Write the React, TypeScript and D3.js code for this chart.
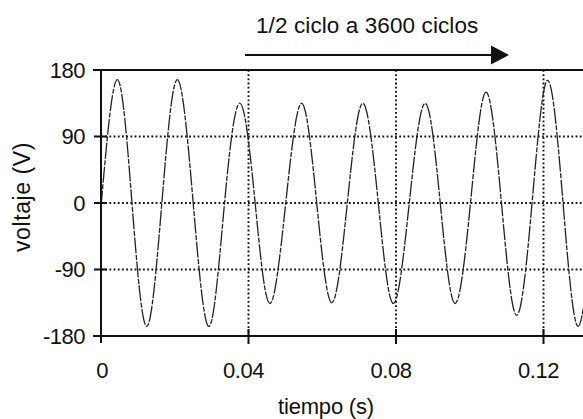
import React from "react";
import * as d3 from "d3";

// Sampled waveform: peaks, troughs and zero crossings (seconds, volts)
const timeS = [
  0, 0.0044, 0.0084, 0.0124, 0.0165, 0.0207, 0.025, 0.0293, 0.0335, 0.0377,
  0.0418, 0.0458, 0.0501, 0.0544, 0.0585, 0.0626, 0.0668, 0.071, 0.0752,
  0.0793, 0.0836, 0.0879, 0.092, 0.096, 0.1002, 0.1044, 0.1086, 0.1127,
  0.1169, 0.1211, 0.1253, 0.1294, 0.1336,
];
const voltageV = [
  -5, 167, 0, -167, 0, 167, 0, -167, 0, 135, 0, -136, 0, 135, 0, -135, 0, 135,
  0, -136, 0, 135, 0, -136, 0, 150, 0, -152, 0, 166, 0, -167, 0,
];

const yTicks = [180, 90, 0, -90, -180];
const yGrid = [90, 0, -90];
const xTicks = [0, 0.04, 0.08, 0.12];
const xTickLabels = ["0", "0.04", "0.08", "0.12"];
const xGrid = [0.04, 0.08, 0.12];

const title = "1/2 ciclo a 3600 ciclos";
const xTitle = "tiempo (s)";
const yTitle = "voltaje (V)";

const W = 583;
const H = 419;
const left = 101;
const top = 70;
const bottom = 336;
const right = W;

export default function App() {
  const x = d3.scaleLinear().domain([0, 0.12]).range([left, 543.5]);
  const y = d3.scaleLinear().domain([-180, 180]).range([bottom, top]);

  const pts = timeS.map((t, i) => [t, voltageV[i]] as [number, number]);
  const line = d3
    .line<[number, number]>()
    .x((d) => x(d[0]))
    .y((d) => y(d[1]))
    .curve(d3.curveNatural);

  const font = "'Liberation Sans', Arial, Helvetica, sans-serif";
  const ink = "#111";

  return (
    <svg
      width={W}
      height={H}
      style={{ position: "absolute", left: 0, top: 0, background: "#fff" }}
      fontFamily={font}
    >
      <defs>
        <clipPath id="plot">
          <rect x={left} y={top - 2} width={right - left} height={bottom - top + 4} />
        </clipPath>
      </defs>

      {/* title and arrow */}
      <text x={256} y={33} fontSize={22.5} fill={ink} letterSpacing={0.1}>
        {title}
      </text>
      <line x1={245} x2={493} y1={55} y2={55} stroke={ink} strokeWidth={2} />
      <path d="M491,45.5 L509,55 L491,64.5 Z" fill={ink} />

      {/* dotted grid */}
      {yGrid.map((v) => (
        <line
          key={"gy" + v}
          x1={left}
          x2={right}
          y1={y(v)}
          y2={y(v)}
          stroke="#111"
          strokeWidth={1.9}
          strokeDasharray="1.8 2.4"
        />
      ))}
      {xGrid.map((v) => (
        <line
          key={"gx" + v}
          x1={x(v)}
          x2={x(v)}
          y1={top}
          y2={bottom}
          stroke="#111"
          strokeWidth={1.9}
          strokeDasharray="1.8 2.4"
        />
      ))}

      {/* waveform */}
      <g clipPath="url(#plot)">
        <path
          d={line(pts) || ""}
          fill="none"
          stroke="#222"
          strokeWidth={1.3}
          strokeDasharray="16 1.5 5 1.5"
        />
      </g>

      {/* frame */}
      <line x1={93} x2={right} y1={top} y2={top} stroke={ink} strokeWidth={2} />
      <line x1={93} x2={right} y1={bottom} y2={bottom} stroke={ink} strokeWidth={2} />
      <line x1={left} x2={left} y1={top} y2={bottom + 7} stroke={ink} strokeWidth={2} />

      {/* y ticks */}
      {yGrid.map((v) => (
        <line
          key={"ty" + v}
          x1={94}
          x2={107}
          y1={y(v)}
          y2={y(v)}
          stroke={ink}
          strokeWidth={2}
        />
      ))}
      {yTicks.map((v) => (
        <text
          key={"ly" + v}
          x={85}
          y={y(v)}
          dy="0.36em"
          textAnchor="end"
          fontSize={22}
          fill={ink}
          letterSpacing={-0.5}
        >
          {v}
        </text>
      ))}

      {/* x ticks */}
      {xGrid.map((v) => (
        <line
          key={"tx" + v}
          x1={x(v)}
          x2={x(v)}
          y1={bottom - 7}
          y2={bottom + 8}
          stroke={ink}
          strokeWidth={2}
        />
      ))}
      {xTicks.map((v, i) => (
        <text
          key={"lx" + v}
          x={x(v)}
          dx={i === 0 ? 1 : -5}
          y={378}
          textAnchor="middle"
          fontSize={22}
          fill={ink}
          letterSpacing={-0.5}
        >
          {xTickLabels[i]}
        </text>
      ))}

      {/* axis titles */}
      <text x={326} y={414} textAnchor="middle" fontSize={22} fill={ink} letterSpacing={-0.2}>
        {xTitle}
      </text>
      <text
        transform={`translate(30,197) rotate(-90)`}
        textAnchor="middle"
        fontSize={23}
        fill={ink}
        letterSpacing={0.6}
      >
        {yTitle}
      </text>
    </svg>
  );
}
